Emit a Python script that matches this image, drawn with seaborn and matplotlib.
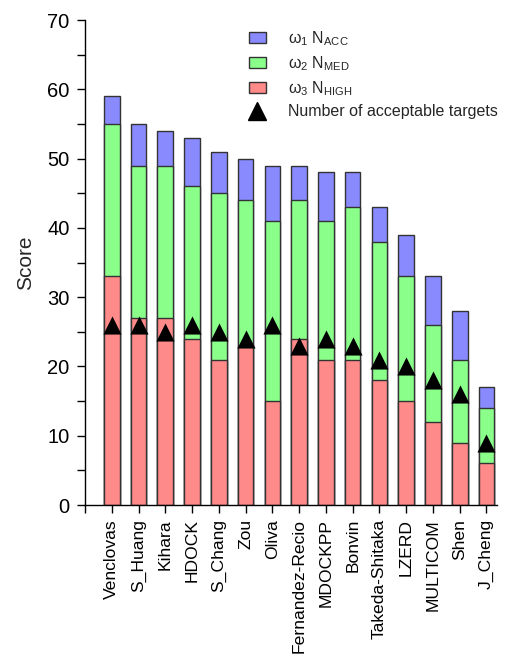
import numpy as np
import pandas as pd
import seaborn as sns
import matplotlib
matplotlib.use("Agg")
import matplotlib.pyplot as plt
from matplotlib.patches import Patch
from matplotlib.lines import Line2D

groups = ["Venclovas", "S_Huang", "Kihara", "HDOCK", "S_Chang", "Zou", "Oliva",
          "Fernandez-Recio", "MDOCKPP", "Bonvin", "Takeda-Shitaka", "LZERD",
          "MULTICOM", "Shen", "J_Cheng"]
high = [33, 27, 27, 24, 21, 23, 15, 24, 21, 21, 18, 15, 12, 9, 6]
med = [22, 22, 22, 22, 24, 21, 26, 20, 20, 22, 20, 18, 14, 12, 8]
acc = [4, 6, 5, 7, 6, 6, 8, 5, 7, 5, 5, 6, 7, 7, 3]
n_acceptable = [26, 26, 25, 26, 25, 24, 26, 23, 24, 23, 21, 20, 18, 16, 9]

sns.set_style("ticks")
plt.rcParams['font.family'] = ['Liberation Sans', 'DejaVu Sans']
plt.rcParams['mathtext.fontset'] = 'custom'
plt.rcParams['mathtext.rm'] = 'Liberation Sans'
plt.rcParams['mathtext.it'] = 'Liberation Sans:italic'

c_red = '#ff8a8a'
c_green = '#8aff8a'
c_blue = '#8a8aff'
edge = '#333333'

df = pd.DataFrame({"group": groups, "high": high, "med": med, "acc": acc,
                   "n": n_acceptable})
df["hm"] = df["high"] + df["med"]
df["total"] = df["hm"] + df["acc"]

fig = plt.figure(figsize=(5.12, 6.58), dpi=100)
ax = fig.add_axes([0.166, 0.2325, 0.805, 0.737])

for col, color in [("total", c_blue), ("hm", c_green), ("high", c_red)]:
    sns.barplot(data=df, x="group", y=col, color=color, width=0.585,
                edgecolor=edge, linewidth=1.0, saturation=1, ax=ax, zorder=2)

sns.scatterplot(data=df, x="group", y="n", marker="^", color="black", s=170,
                edgecolor="black", linewidth=0, ax=ax, zorder=5, legend=False)

ax.set_xlim(-1, 14.4)
ax.set_ylim(0, 70)
ax.set_yticks(np.arange(0, 71, 10))
ax.set_yticks(np.arange(5, 70, 10), minor=True)
ax.set_xticks(list(range(-1, 15)))
ax.set_xticklabels([""] + groups, rotation=90)
ax.tick_params(axis='y', which='major', labelsize=14.5, length=6, width=1,
               pad=5, direction='out', color='black', labelcolor='black')
ax.tick_params(axis='x', which='major', labelsize=12.6, length=6, width=1,
               pad=4, direction='out', color='black', labelcolor='black')
ax.tick_params(axis='y', which='minor', length=6, width=1, color='black')
ax.set_xlabel("")
ax.set_ylabel("Score", fontsize=15, labelpad=9)
for s in ["top", "right"]:
    ax.spines[s].set_visible(False)
for s in ["left", "bottom"]:
    ax.spines[s].set_linewidth(1.0)
    ax.spines[s].set_color('black')

handles = [
    Patch(facecolor=c_blue, edgecolor=edge, linewidth=1.0),
    Patch(facecolor=c_green, edgecolor=edge, linewidth=1.0),
    Patch(facecolor=c_red, edgecolor=edge, linewidth=1.0),
    Line2D([], [], marker="^", color="black", linestyle="none", markersize=13),
]
labels = ["ω$_1$ N$_{\\mathrm{ACC}}$", "ω$_2$ N$_{\\mathrm{MED}}$",
          "ω$_3$ N$_{\\mathrm{HIGH}}$", "Number of acceptable targets"]
ax.legend(handles, labels, loc="upper right", bbox_to_anchor=(1.03, 1.005),
          frameon=False, fontsize=11.5, handlelength=1.1, handleheight=0.7,
          handletextpad=1.4, labelspacing=0.4, borderaxespad=0.3)

fig.savefig("out.png", dpi=100)
